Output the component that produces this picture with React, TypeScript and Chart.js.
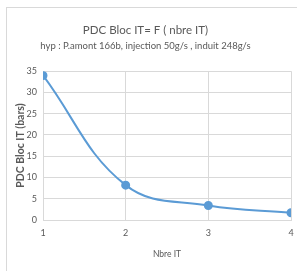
import React, { useEffect, useRef } from "react";
import { Chart, registerables } from "chart.js";

Chart.register(...registerables);

const xValues = [1, 2, 3, 4];
const yValues = [34, 8.2, 3.4, 1.7];
const titleText = "PDC Bloc IT= F ( nbre IT)";
const subtitleText = "hyp : P.amont 166b, injection 50g/s , induit 248g/s";
const yTitle = "PDC Bloc IT (bars)";
const xTitle = "Nbre IT";

const FONT = "Lato, 'Open Sans', sans-serif";
const GREY = "#595959";
const GRID = "#d9d9d9";
const BLUE = "#5b9bd5";

export default function App() {
  const ref = useRef<HTMLCanvasElement | null>(null);
  useEffect(() => {
    if (!ref.current) return;
    const chart = new Chart(ref.current, {
      type: "line",
      data: {
        datasets: [
          {
            data: xValues.map((x, i) => ({ x, y: yValues[i] })),
            borderColor: BLUE,
            backgroundColor: BLUE,
            borderWidth: 2,
            pointRadius: 3.5,
            pointBackgroundColor: BLUE,
            pointBorderColor: BLUE,
            tension: 0.4,
          },
        ],
      },
      options: {
        animation: false,
        responsive: false,
        maintainAspectRatio: false,
        layout: { padding: { top: 0, right: 6, bottom: 0, left: 0 } },
        plugins: {
          legend: { display: false },
          tooltip: { enabled: false },
          title: {
            display: true,
            text: titleText,
            color: GREY,
            font: { family: FONT, size: 11.5, weight: "normal" },
            padding: { top: 23, bottom: 3.5 },
          },
          subtitle: {
            display: true,
            text: subtitleText,
            color: GREY,
            font: { family: FONT, size: 9.5, weight: "normal" },
            padding: { top: 0, bottom: 19.5 },
          },
        },
        scales: {
          x: {
            type: "linear",
            min: 1,
            max: 4,
            ticks: { stepSize: 1, color: GREY, font: { family: FONT, size: 9 }, padding: 8 },
            grid: { color: GRID, drawTicks: false },
            border: { color: GRID },
            title: {
              display: true,
              text: xTitle,
              color: GREY,
              font: { family: FONT, size: 8.5 },
              padding: { top: 0, bottom: 12 },
            },
            afterFit: (s: any) => {
              s.height = 51;
              s.paddingLeft = 0;
              s.paddingRight = 0;
            },
          },
          y: {
            min: 0,
            max: 35,
            ticks: { stepSize: 5, color: GREY, font: { family: FONT, size: 9 }, padding: 6 },
            grid: { color: GRID, drawTicks: false },
            border: { display: false },
            title: {
              display: true,
              text: yTitle,
              color: GREY,
              font: { family: FONT, size: 10.5, weight: "bold" },
              padding: { top: 14, bottom: 0 },
            },
            afterFit: (s: any) => {
              s.width = 43;
            },
          },
        },
      },
    });
    return () => chart.destroy();
  }, []);
  return (
    <div style={{ position: "absolute", left: 0, top: 0, width: 297, height: 271, background: "#fff" }}>
      <div
        style={{
          position: "absolute",
          left: 6,
          top: 7,
          width: 291,
          height: 264,
          borderLeft: `1px solid ${GRID}`,
          borderTop: `1px solid ${GRID}`,
        }}
      />
      <canvas ref={ref} width={297} height={271} style={{ position: "absolute", left: 0, top: 0 }} />
    </div>
  );
}
